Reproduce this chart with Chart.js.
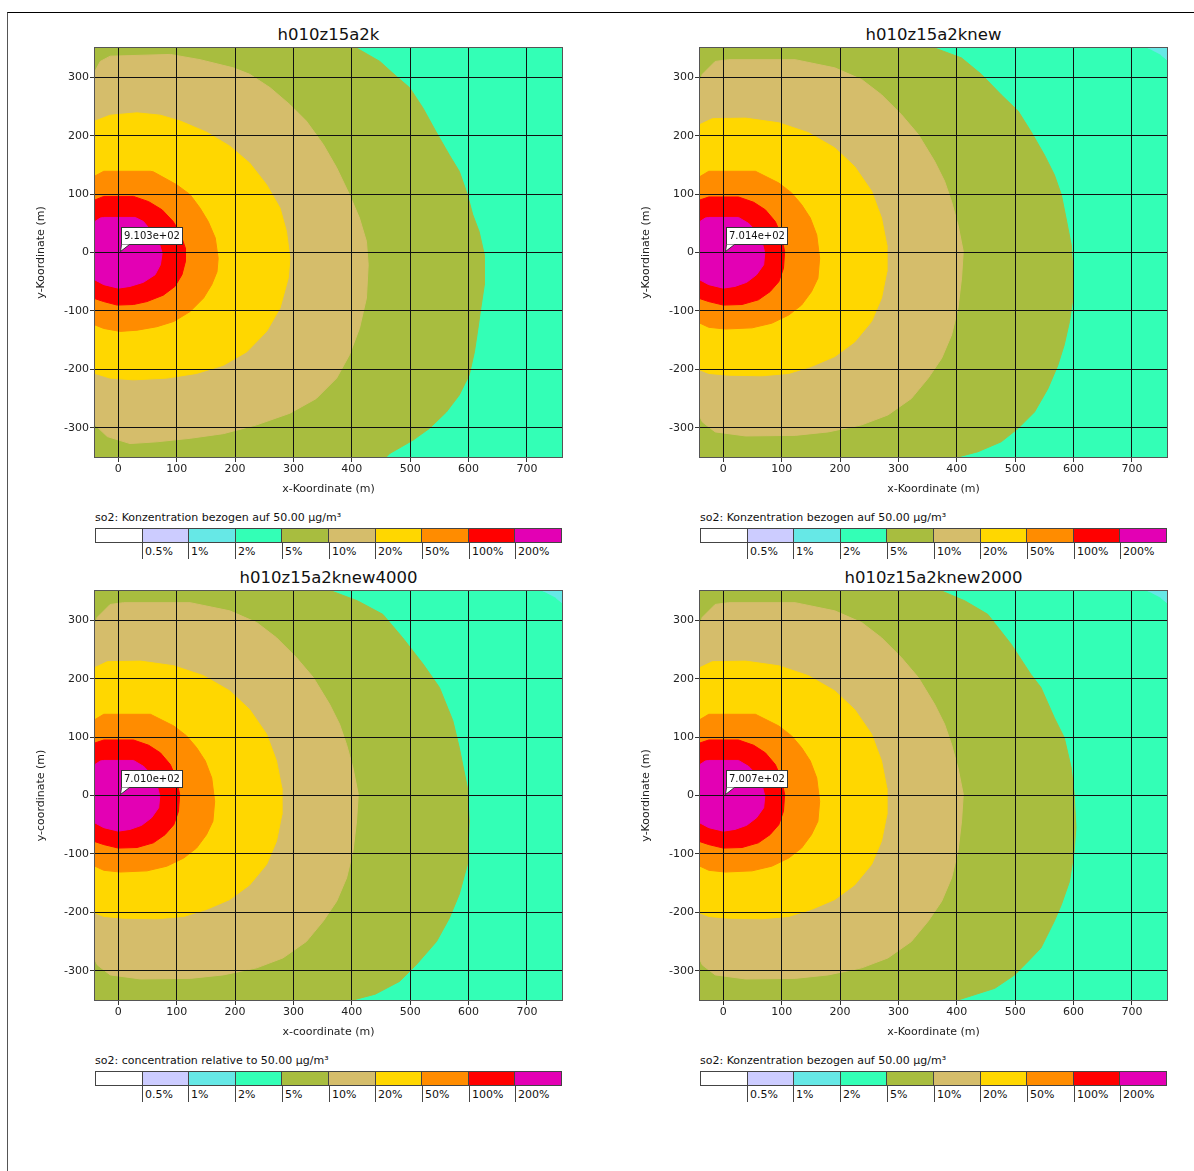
<!DOCTYPE html>
<html>
<head>
<meta charset="utf-8">
<script src="https://cdn.jsdelivr.net/npm/chart.js@4.4.1/dist/chart.umd.min.js"></script>
<style>
  html, body { margin: 0; padding: 0; background: #fff; overflow: hidden; width: 1194px; height: 1171px; }
  body { font-family: "DejaVu Sans", sans-serif; color: #111; position: relative; }
  #frame { position: absolute; left: 7px; top: 12px; width: 1190px; height: 1165px; border-top: 1px solid #000; border-left: 1px solid #555; }
  .panel-title { position: absolute; width: 467px; text-align: center; font-size: 16.5px; line-height: 20px; color: #111; }
  canvas { position: absolute; }
  .leg-title { position: absolute; font-size: 11px; line-height: 14px; white-space: nowrap; color: #111; }
  .leg-bar { position: absolute; width: 467px; height: 15px; display: flex; box-sizing: border-box; border: 1px solid #444; border-right: none; }
  .leg-cell { flex: 1; border-right: 1px solid #444; }
  .leg-label { position: absolute; font-size: 11px; line-height: 14px; height: 14px; padding-top: 2px; padding-left: 2px; border-left: 1px solid #444; white-space: nowrap; color: #111; }
</style>
</head>
<body>
<div id="frame"></div>
<script>
// axes
const x_ticks = [0, 100, 200, 300, 400, 500, 600, 700];
const y_ticks = [-300, -200, -100, 0, 100, 200, 300];
const x_range = [-40, 760];
const y_range = [-350, 350];

// colour scale (index 0 = below 0.5%)
const level_labels = ['', '0.5%', '1%', '2%', '5%', '10%', '20%', '50%', '100%', '200%'];
const level_colors = ['#ffffff', '#ccccff', '#66e8e6', '#33ffb6', '#a8bd3f', '#d5bd6b', '#ffd700', '#ff8c00', '#ff0000', '#e300b4'];

const titles = ['h010z15a2k', 'h010z15a2knew', 'h010z15a2knew4000', 'h010z15a2knew2000'];
const x_titles = ['x-Koordinate (m)', 'x-Koordinate (m)', 'x-coordinate (m)', 'x-Koordinate (m)'];
const y_titles = ['y-Koordinate (m)', 'y-Koordinate (m)', 'y-coordinate (m)', 'y-Koordinate (m)'];
const legend_titles = [
  'so2: Konzentration bezogen auf 50.00 µg/m³',
  'so2: Konzentration bezogen auf 50.00 µg/m³',
  'so2: concentration relative to 50.00 µg/m³',
  'so2: Konzentration bezogen auf 50.00 µg/m³'
];
const peak_labels = ['9.103e+02', '7.014e+02', '7.010e+02', '7.007e+02'];
const peak_x = [3, 3, 3, 3];
const peak_y = [2, 2, 2, 2];

// contour outlines (x, y in m)
const a2k_200 = [[-40,53],[-31,59],[-25,60],[29,60],[43,53],[57,36],[69,19],[75,-1],[72,-21],[63,-38],[43,-51],[20,-58],[0,-61],[-25,-55],[-40,-47]];
const a2k_100 = [[-40,90],[-25,96],[26,96],[52,87],[75,73],[94,53],[106,33],[115,7],[115,-15],[109,-38],[97,-58],[77,-73],[49,-84],[26,-89],[-2,-90],[-25,-84],[-40,-79]];
const a2k_50 = [[-40,131],[-25,139],[55,139],[60,138],[100,116],[123,99],[140,76],[154,53],[166,25],[171,-10],[169,-33],[160,-55],[146,-78],[123,-101],[95,-118],[66,-127],[32,-133],[3,-135],[-25,-130],[-40,-124]];
const a2k_20 = [[-40,225],[-14,235],[32,239],[72,235],[106,225],[151,206],[191,182],[225,153],[254,116],[277,76],[288,36],[294,-10],[291,-44],[277,-95],[254,-135],[220,-170],[180,-193],[134,-207],[83,-215],[26,-218],[-14,-215],[-40,-207]];
const a2k_10 = [[-40,310],[-31,327],[-14,336],[89,339],[140,330],[197,316],[225,305],[260,282],[294,253],[322,225],[351,185],[374,145],[396,99],[413,59],[425,19],[428,-21],[425,-78],[413,-130],[396,-175],[374,-215],[339,-250],[294,-275],[237,-295],[180,-310],[123,-318],[66,-324],[20,-327],[-19,-315],[-40,-295]];
const a2k_5 = [[-40,350],[408,350],[448,327],[470,307],[499,282],[522,247],[544,207],[567,167],[584,139],[598,99],[607,65],[618,36],[627,-4],[627,-55],[621,-95],[616,-130],[610,-170],[601,-210],[584,-244],[562,-273],[533,-301],[505,-321],[465,-344],[459,-350],[-40,-350]];

const new_200 = [[-40,53],[-31,59],[-25,60],[26,60],[43,50],[57,36],[66,19],[71,-1],[69,-21],[57,-38],[40,-51],[20,-58],[0,-61],[-25,-55],[-40,-47]];
const new_100 = [[-40,90],[-25,95],[26,95],[52,86],[72,73],[89,53],[99,30],[105,2],[103,-27],[95,-50],[80,-67],[60,-81],[32,-89],[0,-90],[-25,-84],[-40,-79]];
const new_50 = [[-40,130],[-25,139],[55,139],[95,119],[117,102],[134,82],[149,59],[160,30],[165,-10],[162,-44],[151,-67],[134,-90],[112,-107],[83,-121],[49,-129],[3,-131],[-25,-128],[-40,-121]];
const new_20 = [[-40,219],[-19,229],[38,230],[95,222],[146,205],[191,179],[225,147],[254,105],[271,59],[280,13],[280,-33],[271,-78],[254,-118],[225,-153],[191,-178],[151,-195],[112,-207],[66,-211],[9,-210],[-25,-207],[-40,-201]];
const new_10 = [[-40,293],[-36,305],[-14,327],[9,330],[123,330],[191,316],[237,296],[271,270],[305,236],[334,202],[362,156],[379,122],[391,87],[402,47],[411,2],[408,-44],[402,-95],[391,-141],[374,-181],[351,-215],[322,-250],[282,-278],[237,-295],[180,-307],[123,-313],[38,-314],[-14,-307],[-36,-290],[-40,-281]];
const new_5 = [[-40,350],[362,350],[408,333],[442,305],[476,270],[505,242],[527,207],[550,167],[567,133],[579,99],[587,59],[596,13],[599,-33],[599,-78],[593,-118],[584,-158],[573,-193],[556,-233],[533,-273],[505,-301],[476,-324],[436,-341],[402,-350],[-40,-350]];
const new_1 = [[727,350],[760,350],[760,330],[750,338]];

const n4000_5 = [[-40,350],[365,350],[410,333],[453,310],[487,270],[522,225],[550,185],[573,128],[584,82],[598,13],[601,-44],[598,-118],[584,-169],[567,-210],[545,-250],[510,-290],[482,-318],[440,-340],[402,-350],[-40,-350]];
const n2000_5 = [[-40,350],[374,350],[414,333],[453,310],[493,259],[527,207],[544,185],[567,133],[584,99],[596,47],[601,2],[604,-55],[601,-95],[593,-147],[579,-187],[567,-215],[544,-261],[522,-284],[499,-307],[465,-330],[402,-350],[-40,-350]];

const panel_contours = [
  [[9, a2k_200], [8, a2k_100], [7, a2k_50], [6, a2k_20], [5, a2k_10], [4, a2k_5]],
  [[9, new_200], [8, new_100], [7, new_50], [6, new_20], [5, new_10], [4, new_5], [2, new_1]],
  [[9, new_200], [8, new_100], [7, new_50], [6, new_20], [5, new_10], [4, n4000_5], [2, new_1]],
  [[9, new_200], [8, new_100], [7, new_50], [6, new_20], [5, new_10], [4, n2000_5], [2, new_1]]
];

const font_family = '"DejaVu Sans", sans-serif';

// area outside all contours = 2% colour
const plot_background = {
  id: 'plot_background',
  beforeDatasetsDraw(chart) {
    const a = chart.chartArea;
    const ctx = chart.ctx;
    ctx.save();
    ctx.fillStyle = level_colors[3];
    ctx.fillRect(a.left, a.top, a.right - a.left, a.bottom - a.top);
    ctx.restore();
  }
};

const plot_frame = {
  id: 'plot_frame',
  afterDraw(chart) {
    const a = chart.chartArea;
    const ctx = chart.ctx;
    ctx.save();
    ctx.strokeStyle = '#555';
    ctx.lineWidth = 1;
    ctx.strokeRect(Math.round(a.left) - 0.5, Math.round(a.top) - 0.5, Math.round(a.right - a.left) + 1, Math.round(a.bottom - a.top) + 1);
    ctx.restore();
  }
};

const peak_label = {
  id: 'peak',
  afterDraw(chart, args, opts) {
    const ctx = chart.ctx;
    const px = Math.round(chart.scales.x.getPixelForValue(opts.x)) + 0.5;
    const py = Math.round(chart.scales.y.getPixelForValue(opts.y)) + 0.5;
    ctx.save();
    ctx.font = '10px ' + font_family;
    const w = Math.round(ctx.measureText(opts.text).width) + 5;
    const h = 17;
    const left = px + 1;
    const bottom = py - 7;
    ctx.fillStyle = '#fff';
    ctx.strokeStyle = '#333';
    ctx.lineWidth = 1;
    ctx.fillRect(left, bottom - h, w, h);
    ctx.strokeRect(left, bottom - h, w, h);
    ctx.beginPath();
    ctx.moveTo(left, bottom);
    ctx.lineTo(px, py);
    ctx.lineTo(left + 8, bottom);
    ctx.closePath();
    ctx.fill();
    ctx.beginPath();
    ctx.moveTo(left, bottom);
    ctx.lineTo(px, py);
    ctx.lineTo(left + 8, bottom);
    ctx.stroke();
    ctx.fillStyle = '#111';
    ctx.textBaseline = 'middle';
    ctx.fillText(opts.text, left + 2.5, bottom - h / 2 + 0.5);
    ctx.restore();
  }
};

function add_div(cls, left, top, text) {
  const d = document.createElement('div');
  d.className = cls;
  d.style.left = left + 'px';
  d.style.top = top + 'px';
  if (text !== undefined) d.textContent = text;
  document.body.appendChild(d);
  return d;
}

function render_legend(i, left, plot_bottom) {
  add_div('leg-title', left, plot_bottom + 54, legend_titles[i]);
  const bar = add_div('leg-bar', left, plot_bottom + 71);
  level_colors.forEach(c => {
    const cell = document.createElement('div');
    cell.className = 'leg-cell';
    cell.style.background = c;
    bar.appendChild(cell);
  });
  const cell_w = 467 / level_colors.length;
  level_labels.forEach((label, k) => {
    if (!label) return;
    add_div('leg-label', Math.round(left + k * cell_w), plot_bottom + 86, label);
  });
}

function render_panel(i, plot_left, plot_top) {
  add_div('panel-title', plot_left, plot_top - 23, titles[i]);

  const canvas = document.createElement('canvas');
  canvas.width = 540;
  canvas.height = 460;
  canvas.style.left = (plot_left - 65) + 'px';
  canvas.style.top = (plot_top - 8) + 'px';
  document.body.appendChild(canvas);

  const datasets = panel_contours[i].map(([level, pts], k) => ({
    data: pts,
    showLine: true,
    fill: 'shape',
    tension: 0,
    backgroundColor: level_colors[level],
    borderColor: level_colors[level],
    borderWidth: 1,
    pointRadius: 0,
    pointHitRadius: 0,
    order: k
  }));

  const tick_font = { family: font_family, size: 11 };
  const title_font = { family: font_family, size: 11 };

  new Chart(canvas, {
    type: 'scatter',
    data: { datasets: datasets },
    options: {
      responsive: false,
      animation: false,
      devicePixelRatio: 1,
      layout: { padding: { left: 0, right: 8, top: 8, bottom: 0 } },
      plugins: {
        legend: { display: false },
        tooltip: { enabled: false },
        peak: { x: peak_x[i], y: peak_y[i], text: peak_labels[i] }
      },
      scales: {
        x: {
          type: 'linear',
          min: x_range[0],
          max: x_range[1],
          afterBuildTicks: s => { s.ticks = x_ticks.map(v => ({ value: v })); },
          afterFit: s => { s.height = 43; },
          grid: { z: 1, color: '#111', tickColor: '#333', tickLength: 5, lineWidth: 1 },
          border: { display: false },
          ticks: { color: '#222', font: tick_font, padding: 1, maxRotation: 0, autoSkip: false },
          title: { display: true, text: x_titles[i], color: '#222', font: title_font, padding: { top: 0, bottom: 4 } }
        },
        y: {
          type: 'linear',
          min: y_range[0],
          max: y_range[1],
          afterBuildTicks: s => { s.ticks = y_ticks.map(v => ({ value: v })); },
          afterFit: s => { s.width = 65; },
          grid: { z: 1, color: '#111', tickColor: '#333', tickLength: 5, lineWidth: 1 },
          border: { display: false },
          ticks: { color: '#222', font: tick_font, padding: 1, autoSkip: false },
          title: { display: true, text: y_titles[i], color: '#222', font: title_font, padding: { top: 5, bottom: 0 } }
        }
      }
    },
    plugins: [plot_background, plot_frame, peak_label]
  });

  render_legend(i, plot_left, plot_top + 409);
}

render_panel(0, 95, 48);
render_panel(1, 700, 48);
render_panel(2, 95, 591);
render_panel(3, 700, 591);
</script>
</body>
</html>
